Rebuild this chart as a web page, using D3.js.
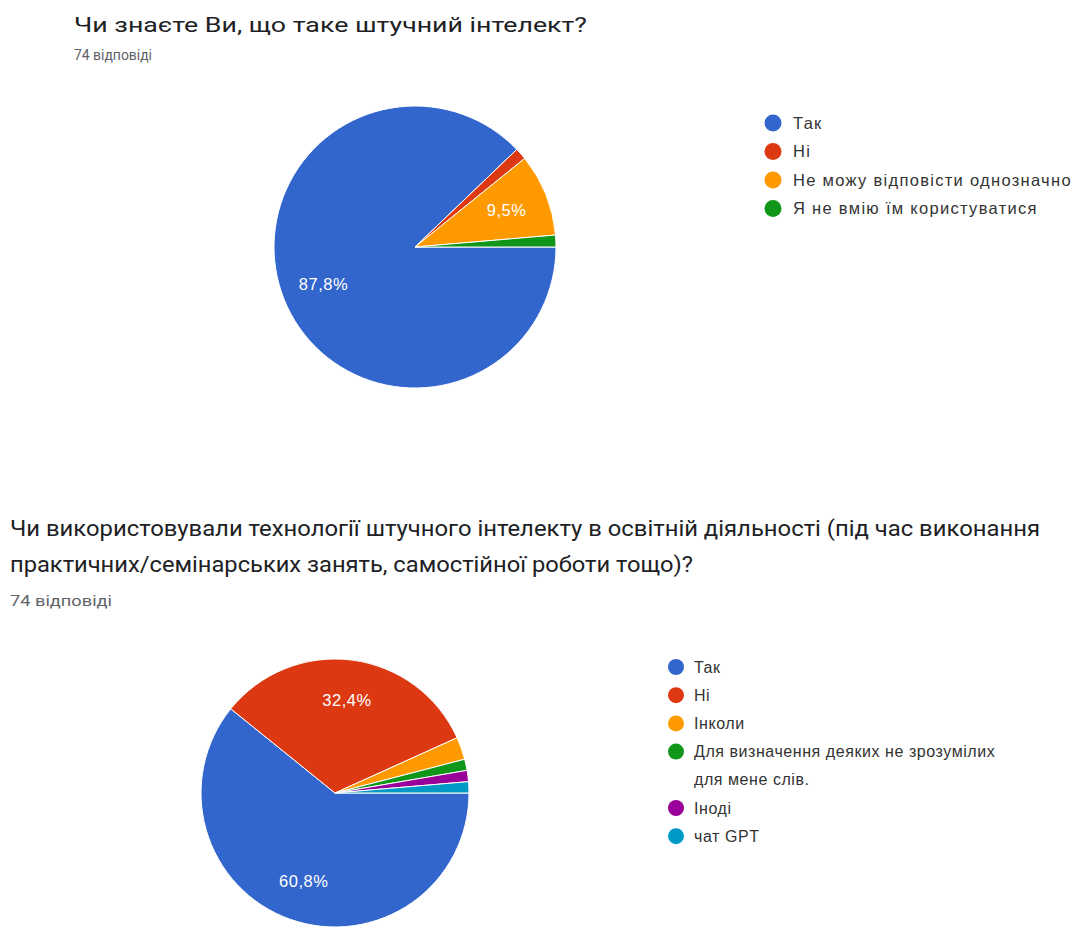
<!DOCTYPE html>
<html><head><meta charset="utf-8">
<script src="https://cdn.jsdelivr.net/npm/d3@7/dist/d3.min.js"></script>
<style>body{margin:0;background:#fff;}svg{display:block;}</style>
</head><body>
<svg id="c" width="1073" height="928"></svg>
<script>
const q1Title = ["Чи знаєте Ви, що таке штучний інтелект?"];
const q1Sub = "74 відповіді";
const q1Labels = ["Так", "Ні", "Не можу відповісти однозначно", "Я не вмію їм користуватися"];
const q1Counts = [65, 1, 7, 1];

const q2Title = ["Чи використовували технології штучного інтелекту в освітній діяльності (під час виконання",
                 "практичних/семінарських занять, самостійної роботи тощо)?"];
const q2Sub = "74 відповіді";
const q2Labels = ["Так", "Ні", "Інколи", "Для визначення деяких не зрозумілих|для мене слів.", "Іноді", "чат GPT"];
const q2Counts = [45, 24, 2, 1, 1, 1];

const palette = ["#3366cc", "#dc3912", "#ff9900", "#109618", "#990099", "#0099c6"];

const svg = d3.select("#c");

function drawPie(cfg) {
  const total = d3.sum(cfg.counts);
  const data = cfg.counts.map((v, i) => ({label: cfg.labels[i], value: v, i}));
  const pie = d3.pie().sort(null).value(d => d.value)
    .startAngle(Math.PI / 2).endAngle(Math.PI / 2 + 2 * Math.PI);
  const arcs = pie(data);
  const arc = d3.arc().innerRadius(0).outerRadius(cfg.r);
  const labelArc = d3.arc().innerRadius(cfg.r * 0.7).outerRadius(cfg.r * 0.7);
  const color = d3.scaleOrdinal().domain(d3.range(palette.length)).range(palette);
  const g = svg.append("g").attr("transform", `translate(${cfg.cx},${cfg.cy})`);
  g.selectAll("path").data(arcs).join("path")
    .attr("d", arc).attr("fill", d => color(d.data.i))
    .attr("stroke", "#fff").attr("stroke-width", 1);
  const fmt = v => (Math.round(v / total * 1000) / 10).toFixed(1).replace(".", ",") + "%";
  g.selectAll("text").data(arcs.filter(d => d.data.value / total > 0.05)).join("text")
    .attr("transform", d => `translate(${labelArc.centroid(d)})`)
    .attr("text-anchor", "middle").attr("dy", "0.35em")
    .attr("fill", "#fff").attr("font-family", "Liberation Sans, Arial, sans-serif")
    .attr("font-size", 16.5).attr("letter-spacing", 0.5).text(d => fmt(d.data.value));

  // titles
  cfg.title.forEach((t, k) => {
    svg.append("text").attr("x", cfg.tx).attr("y", cfg.ty + k * cfg.tstep)
      .attr("font-family", "Roboto, sans-serif").attr("font-size", cfg.tsize)
      .attr("fill", "#202124")
      .attr("textLength", cfg.tlen[k]).attr("lengthAdjust", "spacingAndGlyphs")
      .text(t);
  });
  svg.append("text").attr("x", cfg.tx).attr("y", cfg.sy)
    .attr("font-family", "Roboto, sans-serif").attr("font-size", cfg.ssize)
    .attr("fill", "#5f6368").attr("textLength", cfg.slen).attr("lengthAdjust", "spacingAndGlyphs")
    .text(cfg.sub);

  // legend
  let y = cfg.ly;
  data.forEach(d => {
    const lines = d.label.split("|");
    svg.append("circle").attr("cx", cfg.lx).attr("cy", y).attr("r", cfg.lr).attr("fill", color(d.i));
    lines.forEach((ln, k) => {
      svg.append("text").attr("x", cfg.lx + cfg.lgap).attr("y", y + k * cfg.lstep).attr("dy", "0.35em")
        .attr("font-family", "Liberation Sans, Arial, sans-serif").attr("font-size", cfg.lsize)
        .attr("letter-spacing", cfg.lsp)
        .attr("fill", "#333").text(ln);
    });
    y += lines.length * cfg.lstep;
  });
}

drawPie({counts: q1Counts, labels: q1Labels, title: q1Title, sub: q1Sub,
  cx: 415, cy: 247, r: 141,
  tx: 74, ty: 32, tstep: 0, tsize: 21, tlen: [513], sy: 60, ssize: 15, slen: 78,
  lx: 773, ly: 123, lr: 8.5, lgap: 20, lstep: 28.5, lsize: 16.5, lsp: 1.3});

drawPie({counts: q2Counts, labels: q2Labels, title: q2Title, sub: q2Sub,
  cx: 335, cy: 793, r: 134,
  tx: 10, ty: 536, tstep: 36, tsize: 22, tlen: [1030, 683], sy: 606, ssize: 15, slen: 102,
  lx: 676, ly: 667, lr: 8, lgap: 18, lstep: 28.2, lsize: 16, lsp: 0.56});
</script>
</body></html>
